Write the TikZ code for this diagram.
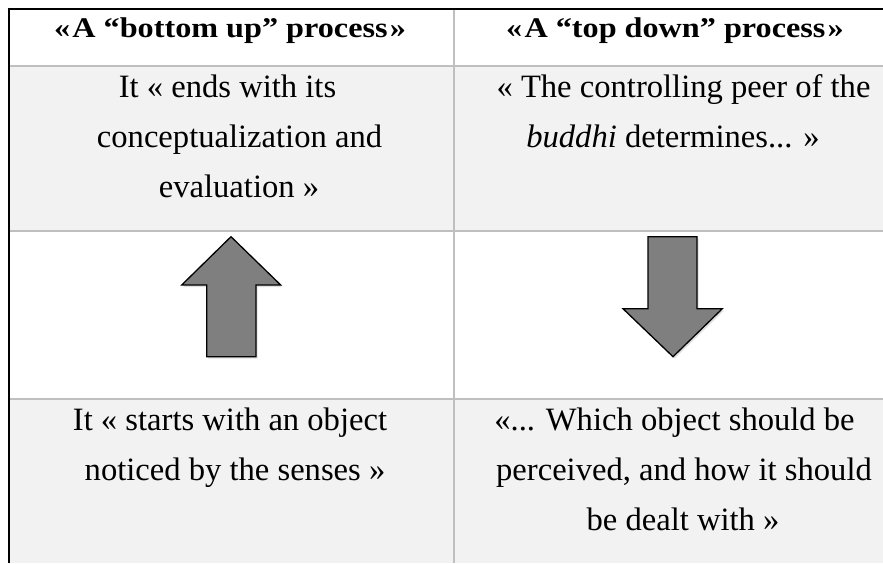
\documentclass[tikz,border=0pt]{standalone}
\usepackage{fontspec}
\usepackage{graphicx}
\setmainfont{Liberation Serif}
\usetikzlibrary{shadows}
\definecolor{rowgray}{HTML}{F2F2F2}
\definecolor{gridgray}{HTML}{BFBFBF}
\definecolor{arrowgray}{HTML}{7F7F7F}
\tikzset{
  bodytxt/.style={anchor=base, inner sep=0pt, font=\fontsize{32.6}{40}\selectfont},
  headtxt/.style={anchor=base, inner sep=0pt},
  gridline/.style={draw=gridgray, line width=2pt},
  outerline/.style={draw=black, line width=2.6pt},
  blockarrow/.style={fill=arrowgray, draw=black, line width=1.3pt, line join=miter,
    drop shadow={opacity=0.25, shadow xshift=1.5pt, shadow yshift=-2pt}},
}
\newcommand{\hdr}[1]{\scalebox{1.13}[1]{\fontsize{28.5}{32}\selectfont\bfseries #1}}
\begin{document}
\begin{tikzpicture}[x=1pt,y=-1pt]
  % canvas
  \fill[white] (0,0) rectangle (883,563);
  \useasboundingbox (0,0) rectangle (883,563);
  % shaded rows
  \fill[rowgray] (9,66) rectangle (883,231);
  \fill[rowgray] (9,399) rectangle (883,563);
  % grid
  \draw[gridline] (9,66) -- (883,66);
  \draw[gridline] (9,231) -- (883,231);
  \draw[gridline] (9,399) -- (883,399);
  \draw[gridline] (454,9) -- (454,563);
  % outer black lines
  \draw[outerline] (7.7,9) -- (883,9);
  \draw[outerline] (9,7.7) -- (9,563);

  % headers
  \node[headtxt] (h1) at (230,37) {\hdr{«\kern2pt A “bottom up” process\kern2pt »}};
  \node[headtxt] (h2) at (675,37) {\hdr{«\kern2pt A “top down” process\kern2pt »}};

  % row 2
  \node[bodytxt] (a1) at (227.5,97) {It « ends with its};
  \node[bodytxt] (a2) at (239.5,147) {conceptualization and};
  \node[bodytxt] (a3) at (239,197) {evaluation »};
  \node[bodytxt] (b1) at (683.5,97) {« The controlling peer of the};
  \node[bodytxt] (b2) at (673,147) {\textit{buddhi} determines... »};

  % row 4
  \node[bodytxt] (c1) at (230,430) {It « starts with an object};
  \node[bodytxt] (c2) at (235,480) {noticed by the senses »};
  \node[bodytxt] (d1) at (674.5,430) {«... Which object should be};
  \node[bodytxt] (d2) at (684,480) {perceived, and how it should};
  \node[bodytxt] (d3) at (683,530) {be dealt with »};

  % block arrows
  \draw[blockarrow] (231,236.7) -- (280.7,285) -- (256,285) -- (256,356.7)
    -- (206.7,356.7) -- (206.7,285) -- (181.7,285) -- cycle;
  \draw[blockarrow] (648,236.7) -- (697,236.7) -- (697,308.7) -- (722.3,308.7)
    -- (673,356.7) -- (623,308.7) -- (648,308.7) -- cycle;
\end{tikzpicture}
\end{document}
